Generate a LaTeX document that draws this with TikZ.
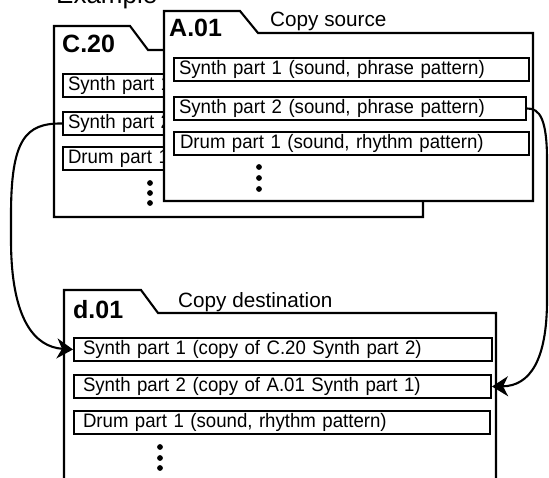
\documentclass[tikz,border=0pt]{standalone}
\usepackage{fontspec}
\setmainfont{Liberation Sans}
\newfontfamily\rowfont[FakeStretch=0.955]{Liberation Sans}
\usetikzlibrary{arrows.meta}
\begin{document}
\begin{tikzpicture}[x=1bp,y=-1bp,
  folder/.style={draw, line width=2.1bp, fill=white, line join=miter},
  rowbox/.style={draw, line width=2bp, fill=white, anchor=north west,
    inner xsep=#1, inner ysep=0pt, minimum height=23bp, align=left,
    font=\rowfont\fontsize{19.5bp}{22bp}\selectfont},
  rowbox/.default=5bp,
  idlabel/.style={anchor=base west, inner sep=0pt, font=\fontsize{25bp}{28bp}\selectfont\bfseries},
  headlabel/.style={anchor=base west, inner sep=0pt, font=\fontsize{20.7bp}{24bp}\selectfont},
  dot/.style={fill=black},
  copyarrow/.style={line width=2.1bp, -{Stealth[length=16bp,width=20bp,inset=5bp]}}
]
\clip (0,0) rectangle (549,478);

% title
\node[anchor=base west, inner sep=0pt, font=\fontsize{26bp}{30bp}\selectfont] (title) at (56,4) {Example};

% C.20 folder
\draw[folder] (54,217) -- (54,26) -- (130,26) -- (148,50) -- (423,50) -- (423,217) -- cycle;
\node[idlabel] (c20) at (62,53) {C.20};
\node[rowbox, text width=328bp] (c1) at (62,73) {Synth part 1};
\node[rowbox, text width=328bp] (c2) at (62,111) {Synth part 2};
\node[rowbox, text width=328bp] (c3) at (62,146) {Drum part 1};
\fill[dot] (150,183) circle (2.9bp) (150,193) circle (2.9bp) (150,203) circle (2.9bp);

% A.01 folder
\draw[folder] (164,201) -- (164,11) -- (240,11) -- (258,33) -- (533,33) -- (533,201) -- cycle;
\node[idlabel] (a01) at (169,37) {A.01};
\node[headlabel] (src) at (270,27) {Copy source};
\node[rowbox, text width=345bp] (a1) at (173,57) {Synth part 1 (sound, phrase pattern)};
\node[rowbox, text width=342bp] (a2) at (173,96) {Synth part 2 (sound, phrase pattern)};
\node[rowbox, text width=343bp, inner xsep=6bp] (a3) at (173,131) {Drum part 1 (sound, rhythm pattern)};
\fill[dot] (259,167) circle (2.9bp) (259,178) circle (2.9bp) (259,189) circle (2.9bp);

% d.01 folder
\draw[folder] (64,480) -- (64,290) -- (141,290) -- (158,313) -- (496,313) -- (496,480);
\node[idlabel] (d01) at (73,318) {d.01};
\node[headlabel] (dst) at (178,307) {Copy destination};
\node[rowbox=9bp, text width=400bp] (d1) at (73,337) {Synth part 1 (copy of C.20 Synth part 2)};
\node[rowbox=9bp, text width=399bp] (d2) at (73,374) {Synth part 2 (copy of A.01 Synth part 1)};
\node[rowbox=9bp, text width=398bp] (d3) at (73,410) {Drum part 1 (sound, rhythm pattern)};
\fill[dot] (160,447) circle (2.9bp) (160,458) circle (2.9bp) (160,468) circle (2.9bp);

% copy arrows
\draw[copyarrow] (c2.west) .. controls (25,123) and (11,140) .. (11,215)
  -- (11,240) .. controls (11,320) and (35,347) .. (d1.west);
\draw[copyarrow] (a2.east) .. controls (540,108) and (547,120) .. (547,160)
  -- (547,300) .. controls (547,360) and (530,386) .. (d2.east);
\end{tikzpicture}
\end{document}
